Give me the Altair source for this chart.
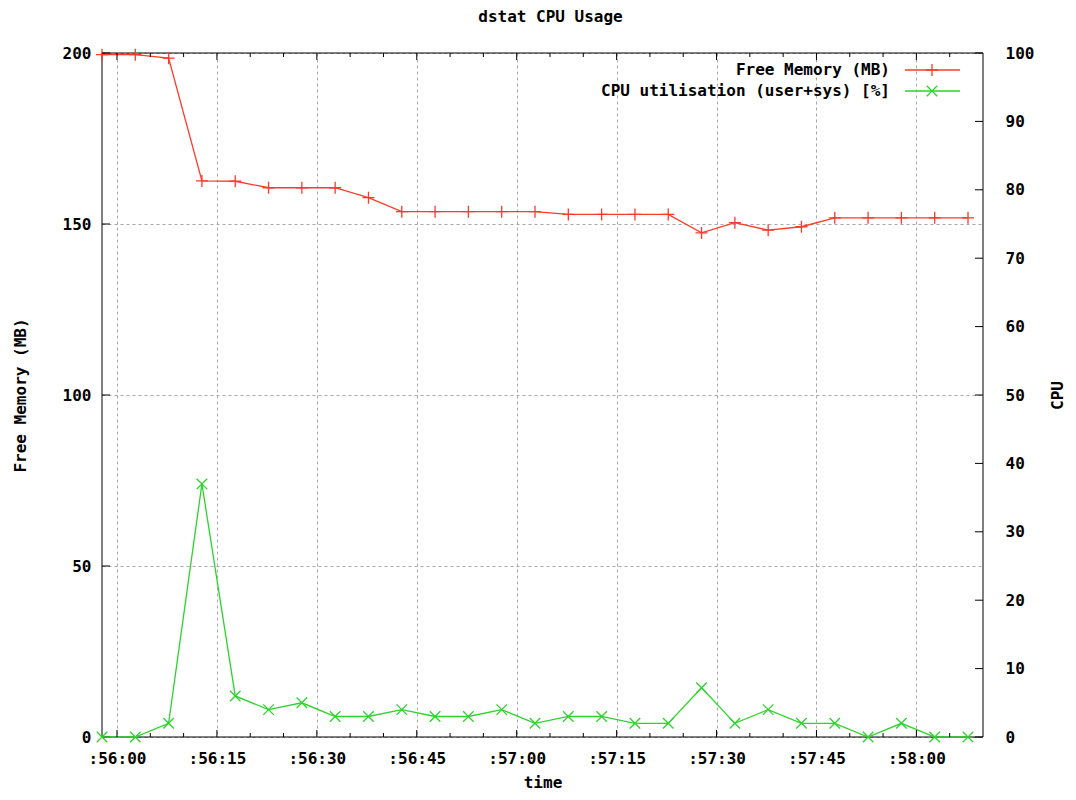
import altair as alt
import pandas as pd

DAY = "2012-01-01T12:"
FONT = "DejaVu Sans Mono"
W, H = 881, 684

# ---- data -----------------------------------------------------------------
sample_times = [
    "55:57.750", "56:02.750", "56:07.750", "56:12.750", "56:17.750",
    "56:22.750", "56:27.750", "56:32.750", "56:37.750", "56:42.750",
    "56:47.750", "56:52.750", "56:57.750", "57:02.750", "57:07.750",
    "57:12.750", "57:17.750", "57:22.750", "57:27.750", "57:32.750",
    "57:37.750", "57:42.750", "57:47.750", "57:52.750", "57:57.750",
    "58:02.750", "58:07.750",
]
free_memory = [
    199.5, 199.5, 198.5, 162.6, 162.5, 160.6, 160.6, 160.6, 157.7, 153.6,
    153.6, 153.6, 153.6, 153.6, 152.8, 152.8, 152.8, 152.8, 147.4, 150.4,
    148.2, 149.2, 151.8, 151.8, 151.8, 151.8, 151.8,
]
cpu_usage = [
    0, 0, 2, 37, 6, 4, 5, 3, 3, 4, 3, 3, 4, 2, 3, 3, 2, 2, 7.2, 2, 4, 2, 2,
    0, 2, 0, 0,
]
series_names = ["Free Memory (MB)", "CPU utilisation (user+sys) [%]"]
series_colors = ["#ff3a2a", "#2ed22e"]

x_major_ticks = ["56:00", "56:15", "56:30", "56:45", "57:00",
                 "57:15", "57:30", "57:45", "58:00"]
x_minor_ticks = ["56:05", "56:10", "56:20", "56:25", "56:35", "56:40",
                 "56:50", "56:55", "57:05", "57:10", "57:20", "57:25",
                 "57:35", "57:40", "57:50", "57:55", "58:05"]
mem_ticks = [0, 50, 100, 150, 200]
cpu_ticks = [0, 10, 20, 30, 40, 50, 60, 70, 80, 90, 100]
x_start = "55:57.750"
x_end = "58:10"

PLUS = "M-1,0L1,0M0,-1L0,1"
CROSS = "M-1,-1L1,1M-1,1L1,-1"


def iso(s):
    return DAY + s


def dt(s):
    mm, ss = s.split(":")
    sec = float(ss)
    return alt.DateTime(year=2012, month=1, date=1, hours=12, minutes=int(mm),
                        seconds=int(sec), milliseconds=int(round((sec - int(sec)) * 1000)))


df = pd.DataFrame({
    "t": [iso(s) for s in sample_times],
    "mem": free_memory,
    "cpu": cpu_usage,
})
df_major = pd.DataFrame({"t": [iso(s) for s in x_major_ticks]})
df_minor = pd.DataFrame({"t": [iso(s) for s in x_minor_ticks]})
df_memt = pd.DataFrame({"mem": mem_ticks})
df_cput = pd.DataFrame({"cpu": cpu_ticks})

xscale = alt.Scale(domain=[dt(x_start), dt(x_end)], nice=False)
grid_style = dict(grid=True, gridDash=[3, 3], gridColor="#a8a8a8", gridWidth=1)

x_enc = alt.X(
    "t:T", scale=xscale,
    axis=alt.Axis(values=[dt(s) for s in x_major_ticks], format=":%M:%S",
                  title="time", ticks=False, domain=False, labelPadding=13,
                  labelOverlap=False, labelFlush=False,
                  titleX=W / 2, titleY=45, titleBaseline="middle",
                  **grid_style),
)
x_plain = alt.X("t:T")

base = alt.Chart(df)

# frame
frame = alt.Chart(pd.DataFrame({"a": [0]})).mark_rect(
    fillOpacity=0, stroke="black", strokeWidth=1
).encode(x=alt.value(0), x2=alt.value(W), y=alt.value(0), y2=alt.value(H))

# memory group (left axis)
mem_y = alt.Y(
    "mem:Q", scale=alt.Scale(domain=[0, 200], nice=False),
    axis=alt.Axis(values=mem_ticks, ticks=False, domain=False, labelPadding=11,
                  title="Free Memory (MB)", titleAngle=270, titleX=-82,
                  titleY=H / 2, titleBaseline="middle", **grid_style),
)
mem_line = base.mark_line(color=series_colors[0], strokeWidth=1.3).encode(x=x_enc, y=mem_y)
mem_pts = base.mark_point(shape=PLUS, filled=False, size=144, strokeWidth=1.3,
                          color=series_colors[0], opacity=1).encode(
    x=x_plain, y=alt.Y("mem:Q"))
mem_tk = alt.Chart(df_memt).mark_rule(color="black").encode(
    y=alt.Y("mem:Q"), x=alt.value(0), x2=alt.value(8))
mem_group = alt.layer(mem_line, mem_pts, mem_tk)

# cpu group (right axis)
cpu_y = alt.Y(
    "cpu:Q", scale=alt.Scale(domain=[0, 100], nice=False),
    axis=alt.Axis(orient="right", values=cpu_ticks, ticks=False, domain=False,
                  labelPadding=22, grid=False, title="CPU", titleAngle=270,
                  titleX=74, titleY=H / 2, titleBaseline="middle"),
)
cpu_line = base.mark_line(color=series_colors[1], strokeWidth=1.3).encode(x=x_plain, y=cpu_y)
cpu_pts = base.mark_point(shape=CROSS, filled=False, size=110, strokeWidth=1.3,
                          color=series_colors[1], opacity=1).encode(
    x=x_plain, y=alt.Y("cpu:Q"))
cpu_tk = alt.Chart(df_cput).mark_rule(color="black").encode(
    y=alt.Y("cpu:Q"), x=alt.value(W - 8), x2=alt.value(W))
cpu_group = alt.layer(cpu_line, cpu_pts, cpu_tk)

# x ticks (inward, bottom and top)
def xticks(frame_df, length):
    bot = alt.Chart(frame_df).mark_rule(color="black").encode(
        x=x_plain, y=alt.value(H), y2=alt.value(H - length))
    top = alt.Chart(frame_df).mark_rule(color="black").encode(
        x=x_plain, y=alt.value(0), y2=alt.value(length))
    return [bot, top]

tick_layers = xticks(df_major, 7) + xticks(df_minor, 4)

# manual key (top right, gnuplot style)
key_layers = []
for i, (name, col, shp, sz) in enumerate(zip(series_names, series_colors,
                                              [PLUS, CROSS], [144, 110])):
    yy = 17 + 21 * i
    kd = alt.Chart(pd.DataFrame({"label": [name]}))
    key_layers.append(kd.mark_text(align="right", baseline="middle", font=FONT,
                                   fontSize=16, fontWeight="bold", color="black")
                      .encode(text="label:N", x=alt.value(788), y=alt.value(yy)))
    key_layers.append(kd.mark_rule(color=col, strokeWidth=1.3)
                      .encode(x=alt.value(803), x2=alt.value(858), y=alt.value(yy)))
    key_layers.append(kd.mark_point(shape=shp, filled=False, size=sz, strokeWidth=1.3,
                                    color=col, opacity=1)
                      .encode(x=alt.value(830), y=alt.value(yy)))

chart = alt.layer(
    frame, mem_group, cpu_group, *tick_layers, *key_layers
).resolve_scale(y="independent").properties(
    width=W, height=H,
    title=alt.TitleParams("dstat CPU Usage", font=FONT, fontSize=16,
                          fontWeight="bold", anchor="middle", offset=20, dx=8,
                          color="black"),
    autosize=alt.AutoSizeParams(type="none"),
    padding={"left": 94, "top": 45, "right": 85, "bottom": 55},
).configure(background="white").configure_view(stroke=None).configure_axis(
    labelFont=FONT, labelFontSize=16, labelFontWeight="bold", labelColor="black",
    titleFont=FONT, titleFontSize=16, titleFontWeight="bold", titleColor="black",
)

chart.save("out.html", embed_options={"renderer": "svg", "actions": False})
